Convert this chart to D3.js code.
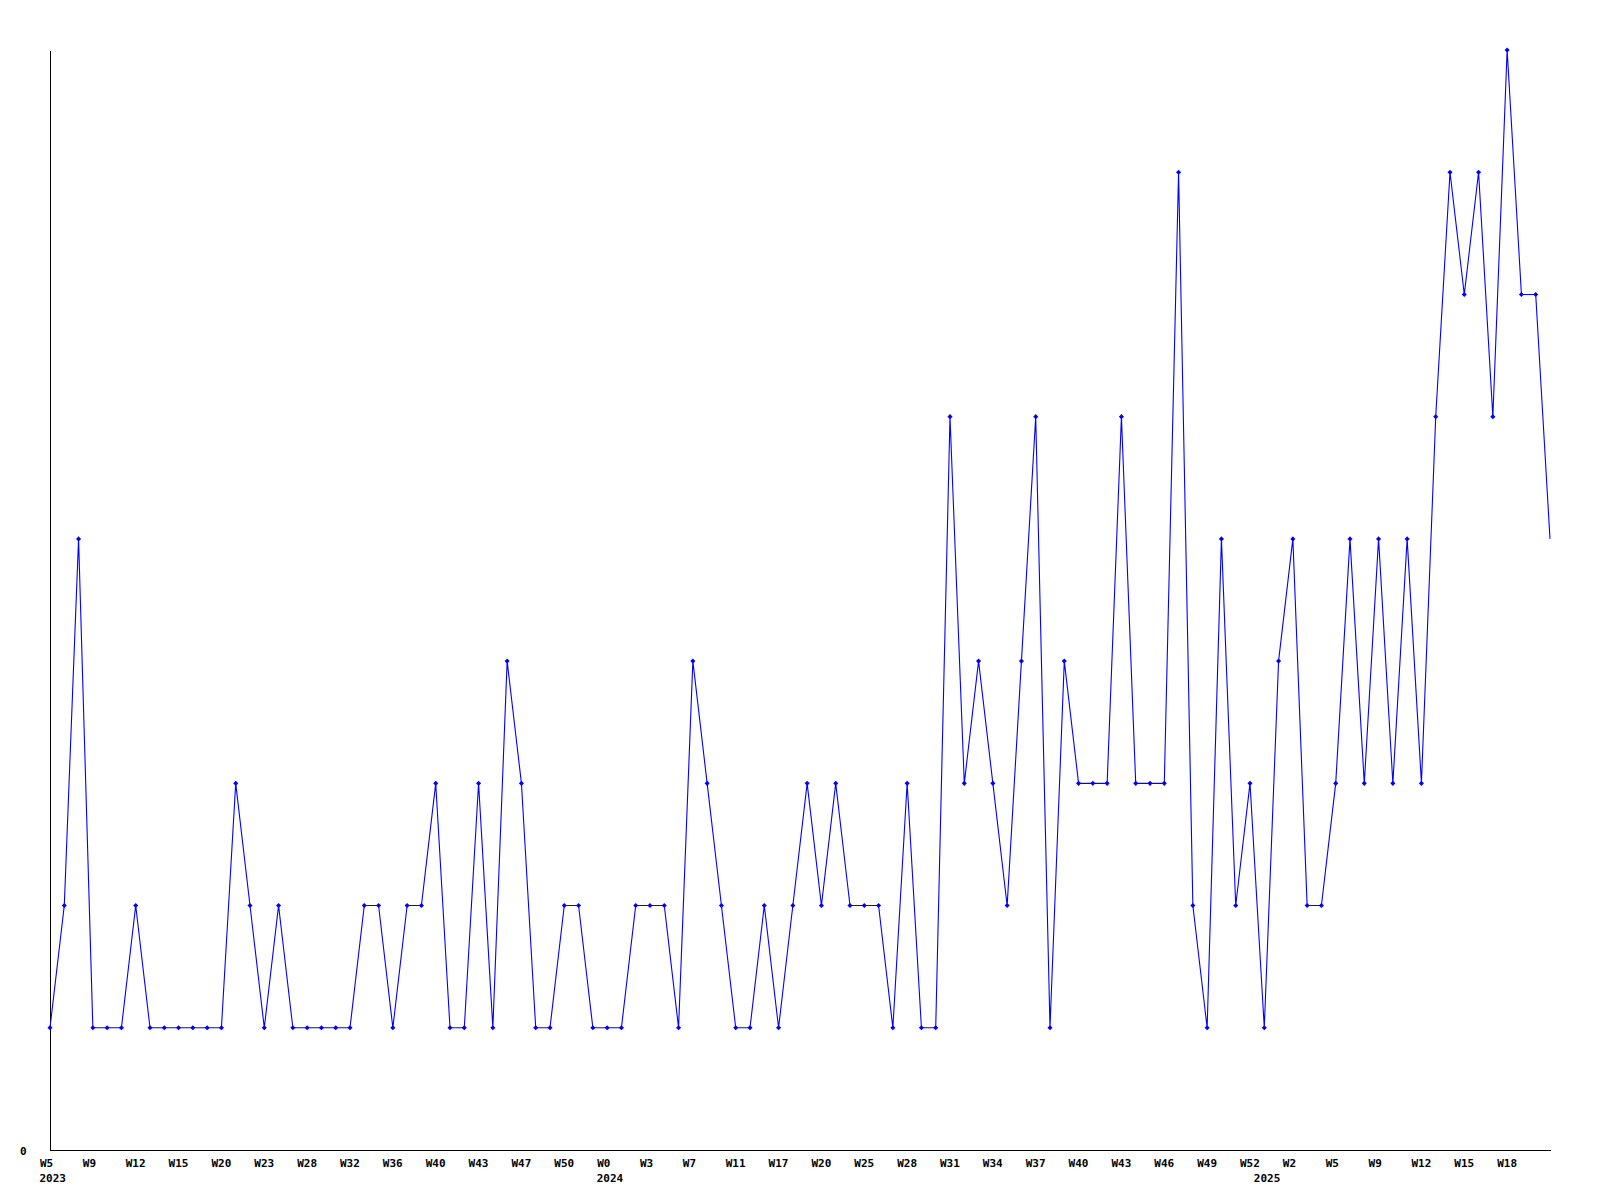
<!DOCTYPE html>
<html>
<head>
<meta charset="utf-8">
<script src="https://cdn.jsdelivr.net/npm/d3@7"></script>
<style>
  html, body { margin: 0; padding: 0; background: #ffffff; }
  svg { display: block; }
  text { font-family: "DejaVu Sans Mono", "Liberation Mono", monospace; font-weight: bold; font-size: 11px; fill: #000; }
</style>
</head>
<body>
<svg id="chart" width="1600" height="1200"></svg>
<script>
// Weekly counts, one value per point (106 weeks)
const values = [
  1, 2, 5, 1, 1, 1, 2, 1, 1, 1,
  1, 1, 1, 3, 2, 1, 2, 1, 1, 1,
  1, 1, 2, 2, 1, 2, 2, 3, 1, 1,
  3, 1, 4, 3, 1, 1, 2, 2, 1, 1,
  1, 2, 2, 2, 1, 4, 3, 2, 1, 1,
  2, 1, 2, 3, 2, 3, 2, 2, 2, 1,
  3, 1, 1, 6, 3, 4, 3, 2, 4, 6,
  1, 4, 3, 3, 3, 6, 3, 3, 3, 8,
  2, 1, 5, 2, 3, 1, 4, 5, 2, 2,
  3, 5, 3, 5, 3, 5, 3, 6, 8, 7,
  8, 6, 9, 7, 7, 5
];

// Week tick labels, one every third point
const tickLabels = [
  "W5", "W9", "W12", "W15", "W20", "W23", "W28", "W32", "W36", "W40",
  "W43", "W47", "W50", "W0", "W3", "W7", "W11", "W17", "W20", "W25",
  "W28", "W31", "W34", "W37", "W40", "W43", "W46", "W49", "W52", "W2",
  "W5", "W9", "W12", "W15", "W18"
];
const tickStep = 3;

// Year labels and the point index where each year starts
const yearLabels = ["2023", "2024", "2025"];
const yearIndex = [0, 39, 85];

const yTicks = [0];
const yMax = 9;

(function () {
  const svg = d3.select("#chart");
  const mLeft = 50, mRight = 1550, mTop = 50, mBottom = 1150;

  const x = d3.scaleLinear().domain([0, values.length - 1]).range([mLeft, mRight]);
  const y = d3.scaleLinear().domain([0, yMax]).range([mBottom, mTop]);

  // X axis
  const tickVals = tickLabels.map((_, i) => i * tickStep);
  const xAxis = d3.axisBottom(x)
    .tickValues(tickVals)
    .tickFormat((d, i) => tickLabels[i])
    .tickSize(0)
    .tickSizeOuter(0);
  const gx = svg.append("g").attr("transform", `translate(0,${mBottom})`).call(xAxis);
  gx.select(".domain").attr("stroke", "#000").attr("stroke-width", 1).attr("shape-rendering", "crispEdges");
  gx.selectAll(".tick text")
    .attr("text-anchor", "start")
    .attr("x", -10.5)
    .attr("y", 17)
    .attr("dy", null)
    .attr("fill", "#000")
    .style("font-family", "'DejaVu Sans Mono', monospace")
    .style("font-weight", "bold")
    .style("font-size", "11px");

  // Year labels
  svg.append("g").selectAll("text")
    .data(yearLabels)
    .join("text")
    .attr("x", (d, i) => x(yearIndex[i]) - 10.5)
    .attr("y", mBottom + 32)
    .attr("text-anchor", "start")
    .text(d => d);

  // Y axis
  const yAxis = d3.axisLeft(y)
    .tickValues(yTicks)
    .tickFormat(d3.format("d"))
    .tickSize(0)
    .tickSizeOuter(0);
  const gy = svg.append("g").attr("transform", `translate(${mLeft},0)`).call(yAxis);
  gy.select(".domain").attr("stroke", "#000").attr("stroke-width", 1).attr("shape-rendering", "crispEdges");
  gy.selectAll(".tick text")
    .attr("x", -23.5)
    .attr("dy", "0.45em")
    .attr("text-anchor", "end")
    .attr("fill", "#000")
    .style("font-family", "'DejaVu Sans Mono', monospace")
    .style("font-weight", "bold")
    .style("font-size", "11px");

  // Line
  const line = d3.line().x((d, i) => x(i)).y(d => y(d));
  svg.append("path")
    .datum(values)
    .attr("d", line)
    .attr("fill", "none")
    .attr("stroke", "#0000ff")
    .attr("stroke-width", 1.1);

  // Markers (the last point has none)
  const sym = d3.symbol().type(d3.symbolSquare).size(13);
  svg.append("g").selectAll("path")
    .data(values.slice(0, values.length - 1))
    .join("path")
    .attr("d", sym)
    .attr("transform", (d, i) => `translate(${x(i)},${y(d)}) rotate(45)`)
    .attr("fill", "#0000ff");
})();
</script>
</body>
</html>
